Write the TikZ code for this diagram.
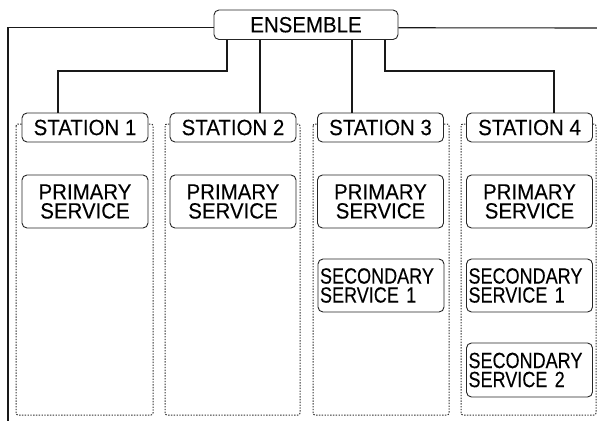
\documentclass[tikz,border=0pt]{standalone}
\usepackage{fontspec}
\setmainfont[FakeStretch=0.93,FakeBold=0.15]{Liberation Sans}
\newfontfamily\narrowfont[FakeStretch=0.82,FakeBold=0.15]{Liberation Sans}
\begin{document}
\begin{tikzpicture}[x=1pt,y=-1pt,
  box/.style={draw=black!85, line width=0.9pt, rounded corners=5pt, fill=white, inner sep=0pt, align=center,
    font=\fontsize{22}{19}\selectfont},
  stbox/.style={box, minimum width=126pt, minimum height=29pt},
  svbox/.style={box, minimum width=126pt, minimum height=53pt},
  secbox/.style={draw=black!85, line width=0.9pt, rounded corners=5pt, fill=white, inner xsep=2pt, inner ysep=0pt,
    text width=122pt, align=left, minimum height=53pt, font=\narrowfont\fontsize{22}{19}\selectfont},
  conn/.style={draw=black!90, line width=1.1pt},
  zone/.style={draw=black!80, line width=1pt, dash pattern=on 1.4pt off 1.4pt, rounded corners=2pt}]
\useasboundingbox (0,0) rectangle (597,421);
% dotted station zones
\draw[zone] (16,124) rectangle (153,415);
\draw[zone] (165,124) rectangle (300,415);
\draw[zone] (313,124) rectangle (449,415);
\draw[zone] (461,124) rectangle (596,415);
% nodes
\node[box, minimum width=184pt, minimum height=29.5pt] (ens) at (306,24.75) {ENSEMBLE};
\node[stbox] (st1) at (85,127.5) {STATION 1};
\node[stbox] (st2) at (233,127.5) {STATION 2};
\node[stbox] (st3) at (380.5,127.5) {STATION 3};
\node[stbox] (st4) at (529.5,127.5) {STATION 4};
\node[svbox] (p1) at (85,201.5) {PRIMARY\\SERVICE};
\node[svbox] (p2) at (233,201.5) {PRIMARY\\SERVICE};
\node[svbox] (p3) at (380.5,201.5) {PRIMARY\\SERVICE};
\node[svbox] (p4) at (529.5,201.5) {PRIMARY\\SERVICE};
\node[secbox] (s31) at (381,285.5) {SECONDARY\\SERVICE 1};
\node[secbox] (s41) at (529.5,285.5) {SECONDARY\\SERVICE 1};
\node[secbox, minimum height=54pt] (s42) at (529.5,370) {SECONDARY\\SERVICE 2};
% frame
\coordinate (fl) at (8,421);
\coordinate (fr) at (597,28);
\draw[conn] ([yshift=-3pt]ens.west) -| (fl);
\draw[conn] ([yshift=-3pt]ens.east) -- (fr);
% connectors
\draw[conn] ([xshift=-79pt]ens.south) -- ++(0,31) -| ([xshift=-27pt]st1.north);
\draw[conn] ([xshift=-46pt]ens.south) -- ([xshift=27pt]st2.north);
\draw[conn] ([xshift=46pt]ens.south) -- ([xshift=-28.5pt]st3.north);
\draw[conn] ([xshift=79pt]ens.south) -- ++(0,31) -| ([xshift=24.5pt]st4.north);
\end{tikzpicture}
\end{document}
